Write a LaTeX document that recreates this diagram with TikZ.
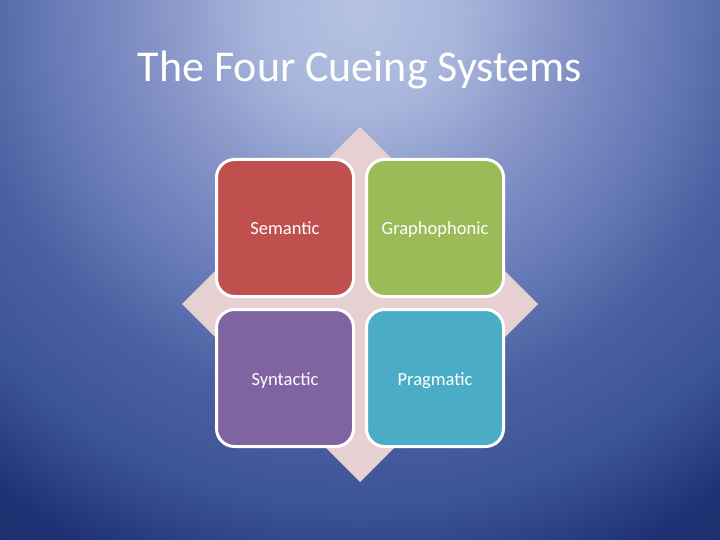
\documentclass[tikz,border=0pt]{standalone}
\usepackage{fontspec}
\setmainfont{Carlito}
\definecolor{bgA}{HTML}{B5C2E2}
\definecolor{bgB}{HTML}{A8B6DC}
\definecolor{bgC}{HTML}{8795C8}
\definecolor{bgD}{HTML}{6477B5}
\definecolor{bgE}{HTML}{4A5FA0}
\definecolor{bgF}{HTML}{3B5496}
\definecolor{bgG}{HTML}{1E3273}
\definecolor{bgH}{HTML}{1A2C68}
\definecolor{diam}{HTML}{E6D0D2}
\definecolor{cred}{HTML}{C0504D}
\definecolor{cgreen}{HTML}{9BBB59}
\definecolor{cpurple}{HTML}{8064A2}
\definecolor{cteal}{HTML}{4BACC6}
\pgfdeclareradialshading{slidebg}{\pgfpoint{0bp}{0bp}}{%
  color(0bp)=(bgA); color(3.45bp)=(bgB); color(6.95bp)=(bgC); color(11.1bp)=(bgD);
  color(13.9bp)=(bgE); color(17.35bp)=(bgF); color(20.85bp)=(bgG); color(24.3bp)=(bgH); color(50bp)=(bgH)}
\tikzset{
  tile/.style={draw=white, line width=3pt, rounded corners=18pt, minimum width=137pt, minimum height=137pt,
    text=white, font=\fontsize{18.5}{22}\selectfont, inner sep=0pt, text height=14pt, text depth=0pt},
}
\begin{document}
\begin{tikzpicture}[x=1pt,y=-1pt]
\useasboundingbox (0,0) rectangle (720,540);
\begin{scope}
\clip (0,0) rectangle (720,540);
\shade[shading=slidebg] (-360,-710) rectangle (1080,730);
\end{scope}
\node[text=white, font=\fontsize{44}{50}\selectfont, anchor=base] (title) at (360,82) {The Four Cueing Systems};
\fill[diam] (360,127) -- (538,304) -- (360,482) -- (182,304) -- cycle;
\node[tile, fill=cred] (sem) at (285,228) {Semantic};
\node[tile, fill=cgreen] (gra) at (435,228) {Graphophonic};
\node[tile, fill=cpurple] (syn) at (285,378) {Syntactic};
\node[tile, fill=cteal] (pra) at (435,378) {Pragmatic};
\end{tikzpicture}
\end{document}
